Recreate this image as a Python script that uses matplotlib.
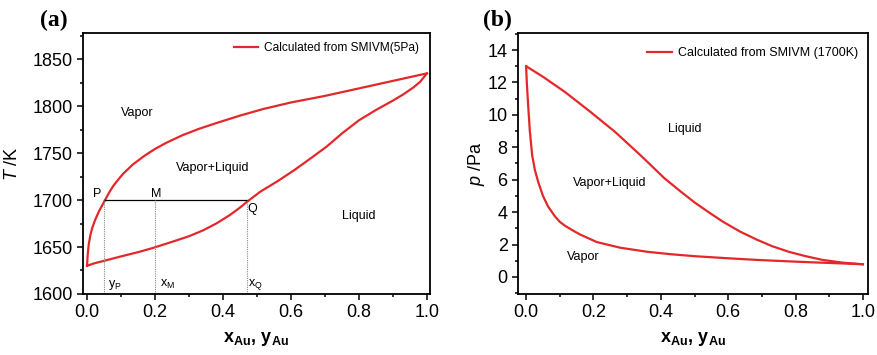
import matplotlib
matplotlib.use("Agg")
import matplotlib.pyplot as plt
from matplotlib.ticker import MultipleLocator, FormatStrFormatter

plt.rcParams['font.family'] = ['Liberation Sans', 'DejaVu Sans']
plt.rcParams['mathtext.fontset'] = 'custom'
plt.rcParams['mathtext.rm'] = 'Liberation Sans'
plt.rcParams['mathtext.it'] = 'Liberation Sans:italic'
plt.rcParams['mathtext.bf'] = 'Liberation Sans:bold'

RED = '#e3282a'

# ---- Panel (a): T-x diagram at 5 Pa ----
x_liquidus = [0.0, 0.02, 0.047, 0.1, 0.15, 0.194, 0.25, 0.30, 0.34, 0.38, 0.42, 0.45, 0.47,
              0.51, 0.56, 0.61, 0.66, 0.705, 0.75, 0.80, 0.85, 0.90, 0.93, 0.96, 0.98, 1.0]
T_liquidus = [1630, 1632.5, 1635, 1640, 1644.5, 1649, 1655.5, 1661.5, 1667.5, 1675, 1684, 1692, 1698,
              1709, 1720, 1732, 1745, 1757, 1771, 1785, 1796, 1806, 1812.5, 1820, 1826, 1835]
x_vapor_a = [0.0, 0.002, 0.005, 0.01, 0.015, 0.024, 0.035, 0.053, 0.065, 0.077, 0.09, 0.106,
             0.135, 0.17, 0.2, 0.233, 0.28, 0.33, 0.38, 0.45, 0.518, 0.6, 0.7, 0.8, 0.9, 1.0]
T_vapor_a = [1630, 1642, 1653, 1663, 1670, 1679, 1688, 1700, 1708, 1715, 1721, 1728,
             1738, 1747.5, 1754.5, 1761, 1769, 1776, 1782, 1790, 1797, 1804, 1811, 1819, 1827, 1835]
tie_T = 1700
tie_x = [0.05, 0.47]
marker_x = [0.05, 0.20, 0.47]

# ---- Panel (b): p-x diagram at 1700 K ----
x_liquid_b = [0.0, 0.05, 0.116, 0.19, 0.264, 0.34, 0.41, 0.46, 0.50, 0.545, 0.585, 0.635,
              0.685, 0.73, 0.78, 0.83, 0.88, 0.94, 1.0]
p_liquid_b = [13.0, 12.35, 11.4, 10.2, 8.95, 7.5, 6.1, 5.25, 4.6, 3.95, 3.4, 2.8,
              2.3, 1.9, 1.55, 1.28, 1.05, 0.88, 0.78]
x_vapor_b = [0.0, 0.002, 0.006, 0.011, 0.018, 0.026, 0.036, 0.05, 0.065, 0.085, 0.1, 0.116,
             0.14, 0.16, 0.21, 0.28, 0.36, 0.43, 0.50, 0.6, 0.685, 0.77, 0.85, 0.93, 1.0]
p_vapor_b = [13.0, 12.0, 10.6, 9.0, 7.5, 6.6, 5.85, 5.0, 4.35, 3.75, 3.4, 3.15,
             2.85, 2.62, 2.15, 1.8, 1.55, 1.4, 1.28, 1.15, 1.05, 0.97, 0.9, 0.84, 0.78]

fig = plt.figure(figsize=(8.77, 3.55), dpi=100)
axA = fig.add_axes([0.0946, 0.172, 0.3957, 0.735])
axB = fig.add_axes([0.5907, 0.172, 0.399, 0.735])

def style(ax):
    for s in ax.spines.values():
        s.set_linewidth(1.3)
    ax.tick_params(which='both', direction='out', top=False, right=False, labelsize=13, width=1.1)
    ax.tick_params(which='major', length=4)
    ax.tick_params(which='minor', length=2.5)
    ax.xaxis.set_major_locator(MultipleLocator(0.2))
    ax.xaxis.set_minor_locator(MultipleLocator(0.1))
    ax.xaxis.set_major_formatter(FormatStrFormatter('%.1f'))
    ax.set_xlabel(r'$\mathbf{x_{Au},\,y_{Au}}$', fontsize=13, labelpad=6)

# Panel a
axA.plot(x_liquidus, T_liquidus, color=RED, lw=1.6, label='Calculated from SMIVM(5Pa)')
axA.plot(x_vapor_a, T_vapor_a, color=RED, lw=1.6)
axA.plot(tie_x, [tie_T, tie_T], color='black', lw=0.9)
for xm in marker_x:
    axA.plot([xm, xm], [1600, tie_T], color='#888888', lw=0.8, ls=(0, (1, 1)))
axA.set_xlim(-0.012, 1.009)
axA.set_ylim(1600, 1878)
axA.yaxis.set_major_locator(MultipleLocator(50))
axA.yaxis.set_minor_locator(MultipleLocator(25))
style(axA)
axA.set_ylabel(r'$\it{T}$ /K', fontsize=13)
axA.yaxis.set_label_coords(-0.178, 0.5)
axA.text(0.10, 1793, 'Vapor', fontsize=9, ha='left', va='center')
axA.text(0.262, 1734, 'Vapor+Liquid', fontsize=9, ha='left', va='center')
axA.text(0.75, 1683, 'Liquid', fontsize=9, ha='left', va='center')
axA.text(0.018, 1707, 'P', fontsize=9, ha='left', va='center')
axA.text(0.188, 1707, 'M', fontsize=9, ha='left', va='center')
axA.text(0.472, 1697, 'Q', fontsize=9, ha='left', va='top')
axA.text(0.062, 1610, r'y$_\mathrm{P}$', fontsize=9, ha='left', va='center')
axA.text(0.215, 1610, r'x$_\mathrm{M}$', fontsize=9, ha='left', va='center')
axA.text(0.474, 1610, r'x$_\mathrm{Q}$', fontsize=9, ha='left', va='center')
axA.legend(loc='upper right', bbox_to_anchor=(1.0, 1.005), frameon=False, fontsize=8.6,
           handlelength=2.0, handletextpad=0.55, borderaxespad=0.9, borderpad=0.0)
fig.text(0.046, 0.942, '(a)', fontsize=17, fontweight='bold', family='Liberation Serif', va='center')

# Panel b
axB.plot(x_liquid_b, p_liquid_b, color=RED, lw=1.6, label='Calculated from SMIVM (1700K)')
axB.plot(x_vapor_b, p_vapor_b, color=RED, lw=1.6)
axB.set_xlim(-0.024, 1.015)
axB.set_ylim(-1.05, 15.05)
axB.yaxis.set_major_locator(MultipleLocator(2))
axB.yaxis.set_minor_locator(MultipleLocator(1))
style(axB)
axB.set_ylabel(r'$\it{p}$ /Pa', fontsize=13)
axB.yaxis.set_label_coords(-0.088, 0.5)
axB.text(0.42, 9.1, 'Liquid', fontsize=9, ha='left', va='center')
axB.text(0.14, 5.8, 'Vapor+Liquid', fontsize=9, ha='left', va='center')
axB.text(0.12, 1.2, 'Vapor', fontsize=9, ha='left', va='center')
axB.legend(loc='upper right', bbox_to_anchor=(1.0, 0.985), frameon=False, fontsize=9,
           handlelength=2.0, handletextpad=0.45, borderaxespad=0.8, borderpad=0.0)
fig.text(0.551, 0.942, '(b)', fontsize=17, fontweight='bold', family='Liberation Serif', va='center')

fig.savefig('out.png', dpi=100)
